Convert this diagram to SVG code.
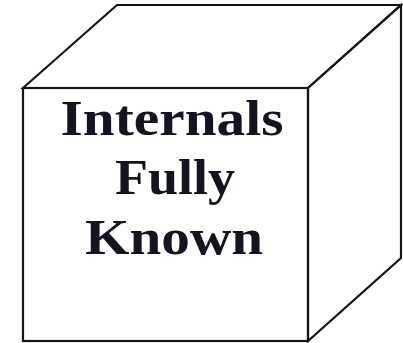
<svg xmlns="http://www.w3.org/2000/svg" width="403" height="343" viewBox="0 0 403 343">
<style>
.edge{fill:none;stroke:#141414;stroke-width:2.2;stroke-linejoin:miter}
.lbl{font-family:"Liberation Serif","Times New Roman",serif;font-weight:bold;font-size:50px;fill:#141420;text-anchor:middle}
</style>
<rect width="403" height="343" fill="#ffffff"/>
<g id="cube">
<polygon class="edge" points="23,88 117,5 401,5 308,88"/>
<polygon class="edge" points="308,88 401,5 401,258 308,341"/>
<rect class="edge" x="23" y="88" width="285" height="253"/>
</g>
<g id="label">
<text class="lbl" x="172" y="135" textLength="223" lengthAdjust="spacingAndGlyphs">Internals</text>
<text class="lbl" x="175" y="194" textLength="120" lengthAdjust="spacingAndGlyphs">Fully</text>
<text class="lbl" x="174" y="254" textLength="178" lengthAdjust="spacingAndGlyphs">Known</text>
</g>
</svg>
